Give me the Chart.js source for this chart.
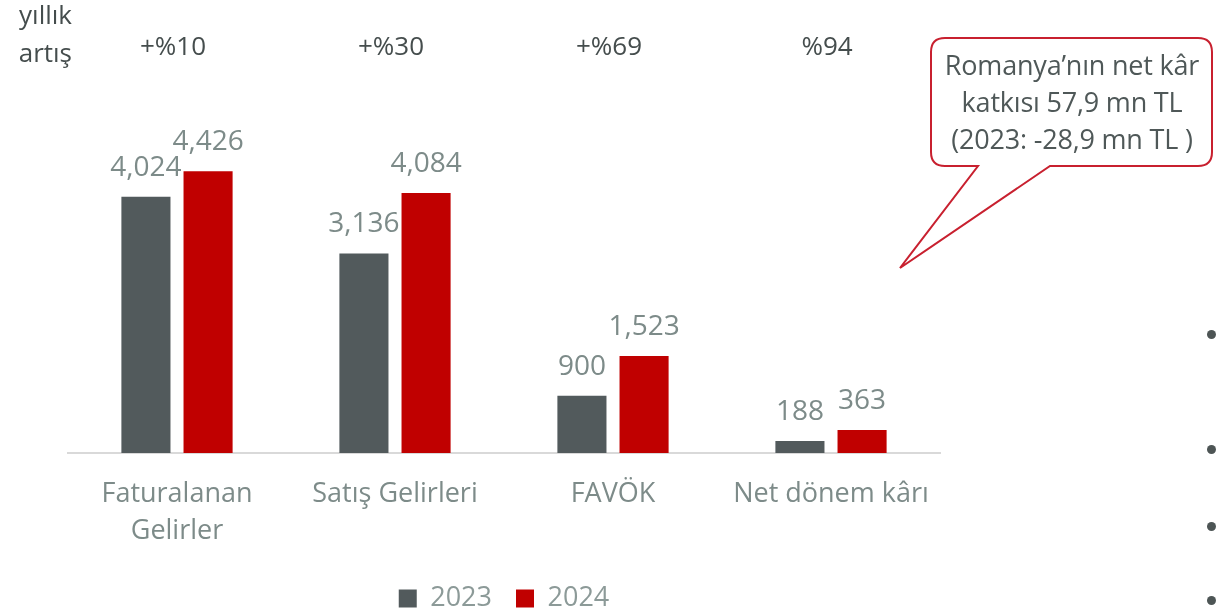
<!DOCTYPE html>
<html>
<head>
<meta charset="utf-8">
<script src="https://cdn.jsdelivr.net/npm/chart.js@4.4.0/dist/chart.umd.min.js"></script>
<style>
  html, body { margin: 0; padding: 0; background: #fff; }
  #wrap { position: relative; width: 1216px; height: 616px; overflow: hidden; font-family: "Open Sans", sans-serif; }
  #chart { position: absolute; left: 0; top: 0; }
  .yillik { position: absolute; left: 0; top: -5px; width: 72px; text-align: right; font-size: 26px; line-height: 38px; color: #454d4d; }
  .balloon { position: absolute; left: 0; top: 0; }
  .balloon-text { position: absolute; left: 931px; top: 46px; width: 282px; text-align: center; font-size: 27px; line-height: 37px; color: #4f5858; letter-spacing: -0.2px; }
  .dot { position: absolute; width: 9px; height: 9px; border-radius: 50%; background: #4d5555; }
</style>
</head>
<body>
<div id="wrap">
  <canvas id="chart" width="1216" height="616"></canvas>
  <div class="yillik">yıllık<br>artış</div>
  <svg class="balloon" width="1216" height="616">
    <path d="M945 38 H1198 Q1212 38 1212 52 V152 Q1212 166 1198 166 H1050 L900 268 L978 166 H945 Q931 166 931 152 V52 Q931 38 945 38 Z"
          fill="#fff" stroke="#c8202f" stroke-width="2"/>
  </svg>
  <div class="balloon-text">Romanya’nın net kâr<br>katkısı 57,9 mn TL<br>(2023: -28,9 mn TL )</div>
  <div class="dot" style="left:1207px;top:330px"></div>
  <div class="dot" style="left:1207px;top:445px"></div>
  <div class="dot" style="left:1207px;top:522px"></div>
  <div class="dot" style="left:1207px;top:596px"></div>
</div>

<script>
// veriler
const categories = [['Faturalanan', 'Gelirler'], 'Satış Gelirleri', 'FAVÖK', 'Net dönem kârı'];
const values2023 = [4024, 3136, 900, 188];
const values2024 = [4426, 4084, 1523, 363];
const growthLabels = ['+%10', '+%30', '+%69', '%94'];

const labelColor = '#7d8b89';

// rótulos acima das barras e crescimento anual no topo
const labelsPlugin = {
    id: 'labelsPlugin',
    afterDatasetsDraw(chart) {
        const ctx = chart.ctx;
        ctx.save();
        ctx.font = '28px "Open Sans"';
        ctx.fillStyle = labelColor;
        ctx.textAlign = 'center';
        ctx.textBaseline = 'middle';

        chart.data.datasets.forEach((ds, i) => {
            const meta = chart.getDatasetMeta(i);
            meta.data.forEach((bar, j) => {
                ctx.fillText(ds.data[j].toLocaleString('en-US'), bar.x, bar.y - 29);
            });
        });

        const xScale = chart.scales.x;
        ctx.font = '26px "Open Sans"';
        ctx.fillStyle = '#454d4d';
        growthLabels.forEach((txt, j) => {
            ctx.fillText(txt, xScale.getPixelForValue(j) - 4, 48);
        });
        ctx.restore();
    }
};

const ctx = document.getElementById('chart');

new Chart(ctx, {
    type: 'bar',
    data: {
        labels: categories,
        datasets: [
            { label: '2023', data: values2023, backgroundColor: '#525a5c' },
            { label: '2024', data: values2024, backgroundColor: '#c00000' }
        ]
    },
    options: {
        responsive: false,
        animation: false,
        layout: { padding: { left: 68, right: 276, top: 80, bottom: -6 } },
        datasets: {
            bar: { categoryPercentage: 0.57, barPercentage: 0.79 }
        },
        scales: {
            x: {
                grid: { display: false, drawTicks: false },
                border: { color: '#d9d9d9', width: 2 },
                ticks: {
                    color: labelColor,
                    font: { family: 'Open Sans', size: 27, lineHeight: 1.4 },
                    padding: 22,
                    maxRotation: 0
                },
                afterFit(scale) { scale.height = 108; }
            },
            y: {
                display: false,
                min: 0,
                max: 5860
            }
        },
        plugins: {
            legend: {
                position: 'bottom',
                labels: {
                    color: '#8c9a98',
                    font: { family: 'Open Sans', size: 27 },
                    boxWidth: 18,
                    boxHeight: 18,
                    padding: 24
                }
            },
            tooltip: { enabled: false }
        }
    },
    plugins: [labelsPlugin]
});
</script>
</body>
</html>
